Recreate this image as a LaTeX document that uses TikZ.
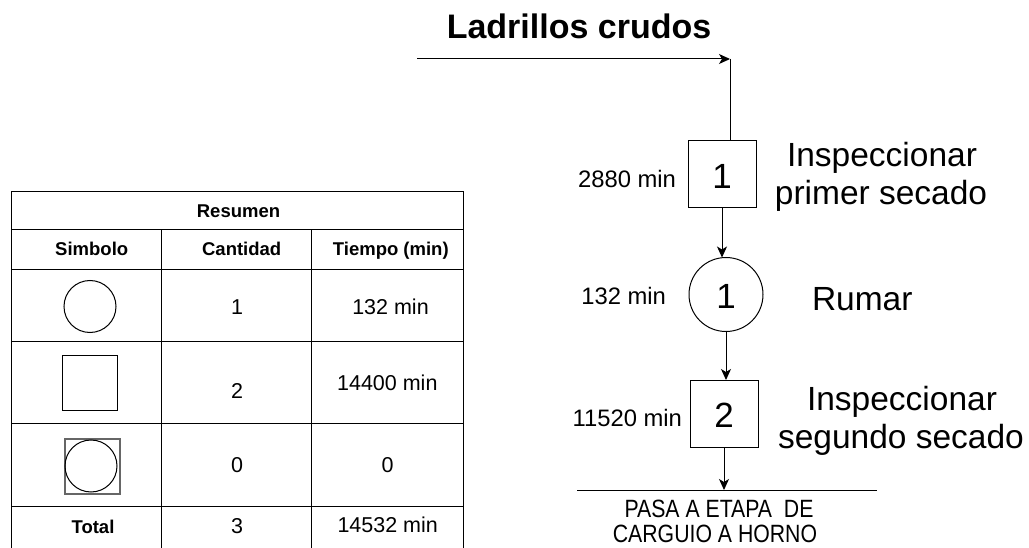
\documentclass[tikz,border=0pt]{standalone}
\usepackage{fontspec}
\setmainfont{Liberation Sans}
\newfontfamily\narrowfont[FakeStretch=0.85]{Liberation Sans}
\usetikzlibrary{arrows.meta}
\begin{document}
\begin{tikzpicture}[x=1pt,y=-1pt,
  every node/.style={inner sep=0pt, outer sep=0pt},
  tline/.style={line width=1pt, black},
  arr/.style={line width=1pt, -{Stealth[length=11pt,width=10pt,inset=3pt]}},
  digit/.style={font=\fontsize{35}{40}\selectfont, text height=28pt, text depth=0pt},
  procbox/.style={draw, line width=1pt, minimum width=68pt, minimum height=67pt, digit},
  opcirc/.style={draw, circle, line width=1pt, minimum size=74pt, digit},
  hd/.style={font=\bfseries\fontsize{18.5}{22}\selectfont, anchor=base},
  cell/.style={font=\fontsize{21.5}{26}\selectfont, anchor=base},
  big/.style={font=\fontsize{33.5}{38}\selectfont, anchor=base},
  tlabel/.style={font=\fontsize{23.8}{28}\selectfont, anchor=base east},
  endtext/.style={font=\narrowfont\fontsize{25}{30}\selectfont, anchor=base},
]
\useasboundingbox (0,0) rectangle (1029,548);

% ---------- Table ----------
\draw[tline] (11,548) -- (11,192) -- (463,192) -- (463,548);
\foreach \yy in {230,270,342,423,506} \draw[tline] (11,\yy) -- (463,\yy);
\draw[tline] (161,230) -- (161,548);
\draw[tline] (311,230) -- (311,548);

\node[hd] (tres) at (238.5,218) {Resumen};
\node[hd] (tsim) at (91.7,256) {Simbolo};
\node[hd] (tcan) at (241.7,256) {Cantidad};
\node[hd] (ttie) at (390.8,256) {Tiempo (min)};

\node[draw, circle, line width=1pt, minimum size=52pt] (s1) at (90,306.5) {};
\node[cell] (c1n) at (237,315) {1};
\node[cell] (c1t) at (390.5,315) {132 min};

\node[draw, line width=1pt, minimum size=55pt] (s2) at (89.5,382.5) {};
\node[cell] (c2n) at (237,398) {2};
\node[cell] (c2t) at (387.3,390) {14400 min};

\node[draw, gray!80!black, line width=2pt, minimum size=55pt] (s3a) at (92,466) {};
\node[draw, circle, line width=1pt, minimum size=52pt] (s3b) at (91,466) {};
\node[cell] (c3n) at (237,472) {0};
\node[cell] (c3t) at (387.7,472) {0};

\node[hd] (ctot) at (93,533) {Total};
\node[cell] (c4n) at (237,533) {3};
\node[cell] (c4t) at (387.7,532) {14532 min};

% ---------- Flow ----------
\node[font=\bfseries\fontsize{34}{40}\selectfont, anchor=base] (title) at (579,39) {Ladrillos crudos};
\coordinate (start) at (417,59);
\coordinate (corner) at (730,59);

\node[procbox] (b1) at (722,174.5) {1};
\node[opcirc] (o1) at (726,294.5) {1};
\node[procbox] (b2) at (724,413.5) {2};
\coordinate (l1) at (577,490);
\coordinate (l2) at (877,490);

\draw[arr] (start) -- (corner);
\draw[line width=1pt] (corner) -- (corner |- b1.north);
\draw[arr] (b1.south) -- (b1.south |- o1.north);
\draw[arr] (o1.south) -- (o1.south |- b2.north);
\draw[arr] (b2.south) -- (b2.south |- l1);
\draw[line width=1pt] (l1) -- (l2);

\node[tlabel] (t1) at (676,188) {2880 min};
\node[big] (n1a) at (882,167) {Inspeccionar};
\node[big] (n1b) at (881,205) {primer secado};

\node[tlabel] (t2) at (666,305) {132 min};
\node[big, anchor=base west] (n2) at (812,311) {Rumar};

\node[tlabel] (t3) at (682,426) {11520 min};
\node[big] (n3a) at (902,410) {Inspeccionar};
\node[big] (n3b) at (901,448) {segundo secado};

\node[endtext] (e1) at (719,517) {PASA A ETAPA\ \ DE};
\node[endtext] (e2) at (715,542.5) {CARGUIO A HORNO};
\end{tikzpicture}
\end{document}
